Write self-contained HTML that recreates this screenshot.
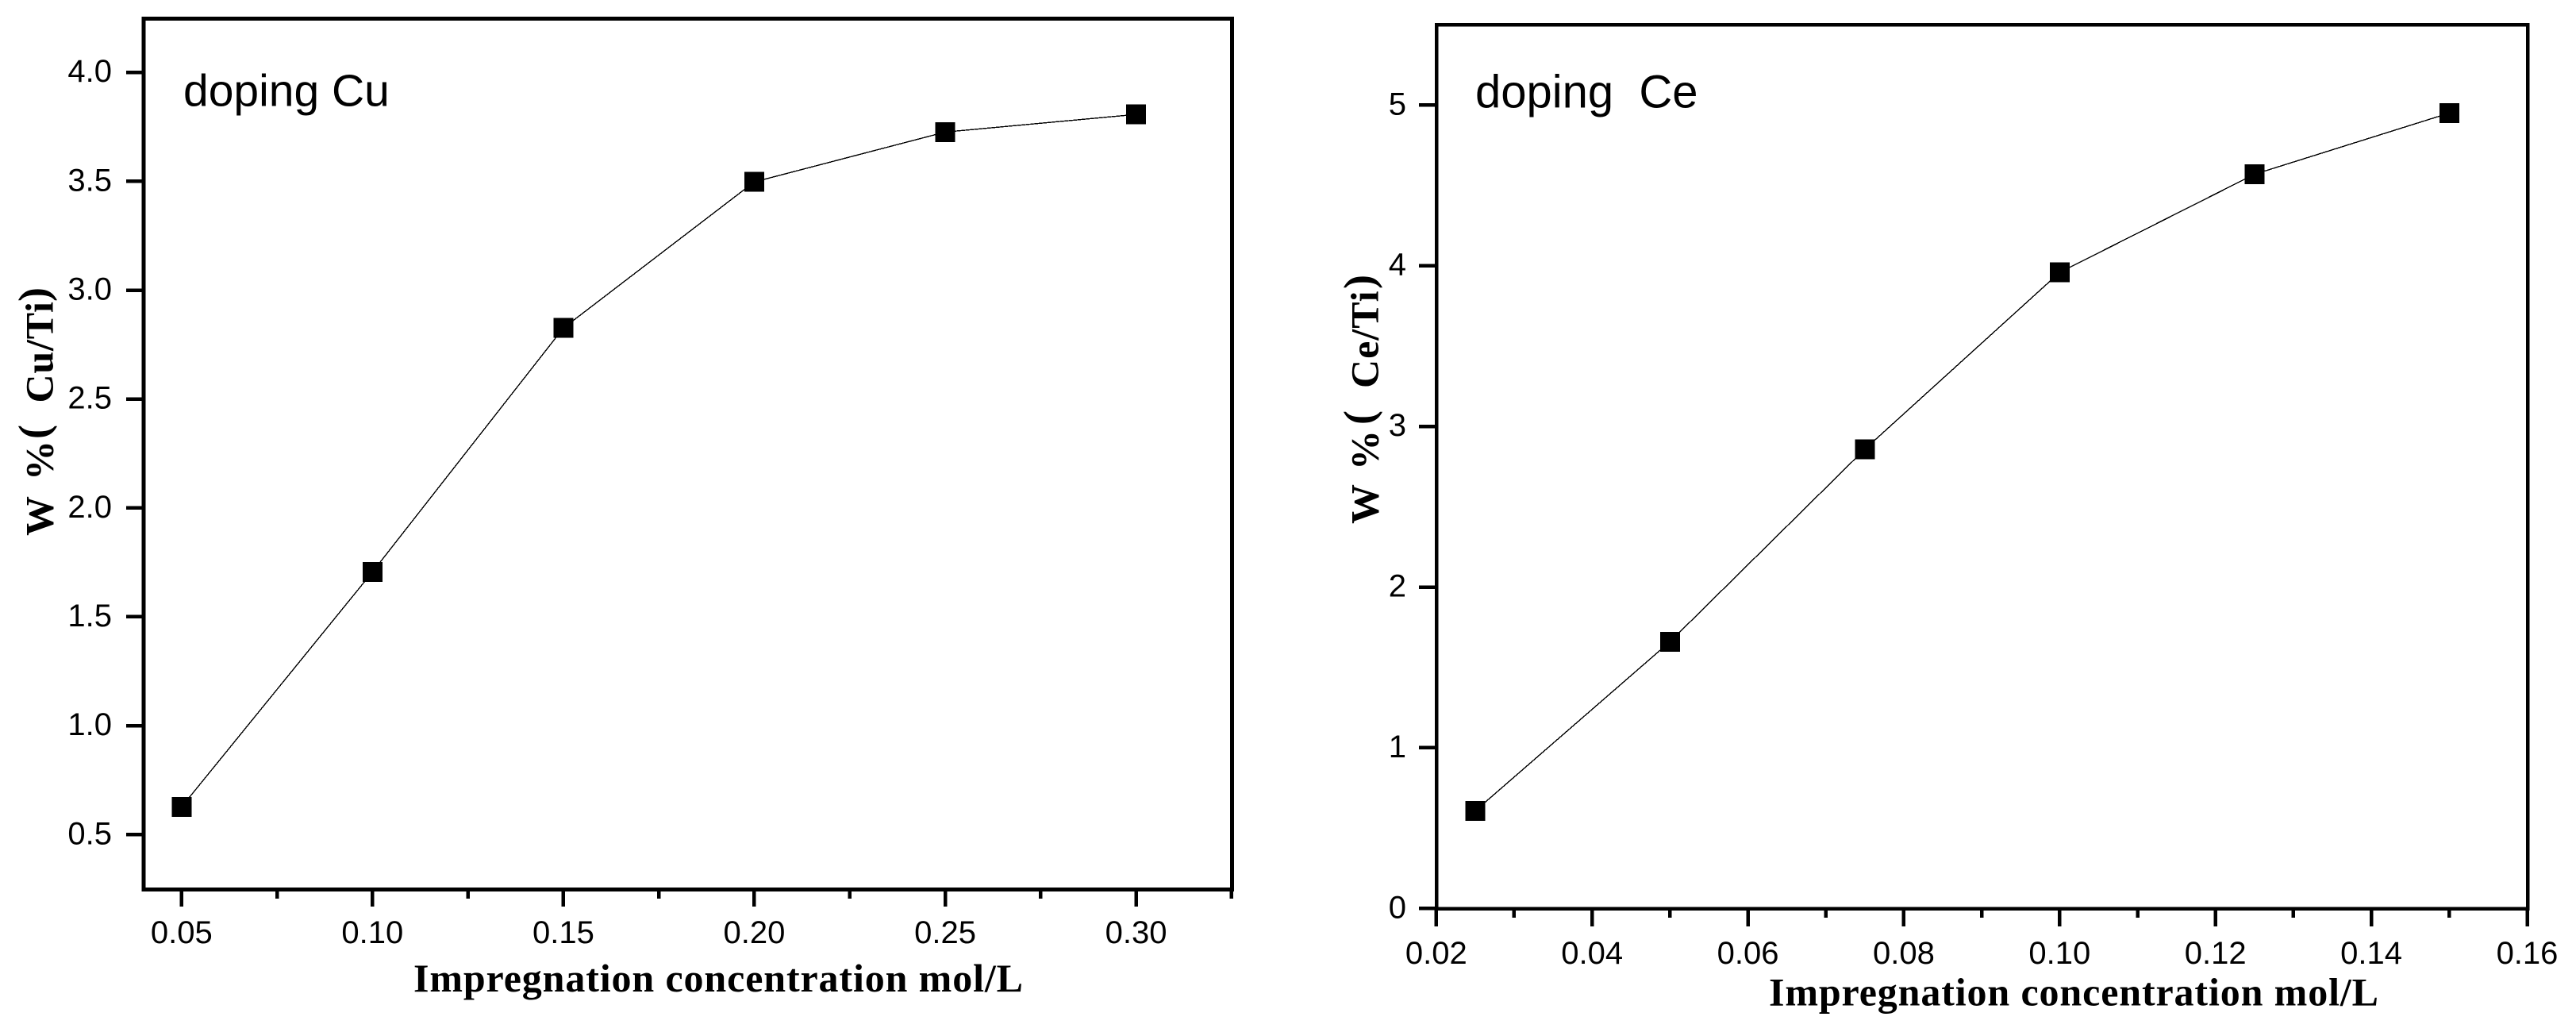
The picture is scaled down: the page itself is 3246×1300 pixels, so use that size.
<!DOCTYPE html>
<html lang="en">
<head>
<meta charset="utf-8">
<title>Doping Cu and Ce versus impregnation concentration</title>
<style>
html,body{margin:0;padding:0;background:#fff;}
svg{display:block;}
.tick{font-family:"Liberation Sans",Arial,sans-serif;font-size:40px;fill:#000;}
.note{font-family:"Liberation Sans",Arial,sans-serif;font-size:57px;fill:#000;white-space:pre;}
.title{font-family:"Liberation Serif","Times New Roman",serif;font-weight:bold;font-size:50px;fill:#000;white-space:pre;}
.paren{font-size:54px;}
.crisp{shape-rendering:crispEdges;}
</style>
</head>
<body>
<svg id="figure" xmlns="http://www.w3.org/2000/svg" width="3246" height="1300" viewBox="0 0 3246 1300">
  <rect x="0" y="0" width="3246" height="1300" fill="#fff"/>
  <g id="chart-cu">
    <rect class="crisp" x="181" y="23.5" width="1371.5" height="1097" fill="none" stroke="#000" stroke-width="5"/>
    <text class="note" x="231" y="133.5">doping Cu</text>
    <text class="title" x="521" y="1249" textLength="768" lengthAdjust="spacing">Impregnation concentration mol/L</text>
    <text class="title" transform="translate(66.5,675) rotate(-90)"><tspan x="0">W</tspan><tspan x="70">%</tspan><tspan class="paren" x="122" dy="-6">(</tspan><tspan x="167.5" dy="6" letter-spacing="0.8">Cu/Ti</tspan><tspan class="paren" x="295" dy="-6">)</tspan></text>
  </g>
  <g id="chart-ce">
    <rect class="crisp" x="1810" y="31" width="1375" height="1113.5" fill="none" stroke="#000" stroke-width="4.5"/>
    <text class="note" style="font-size:58px" x="1859" y="135.5">doping  Ce</text>
    <text class="title" x="2229" y="1266.5" textLength="768" lengthAdjust="spacing">Impregnation concentration mol/L</text>
    <text class="title" transform="translate(1736.7,660) rotate(-90)"><tspan x="0">W</tspan><tspan x="68">%</tspan><tspan class="paren" x="125" dy="-6">(</tspan><tspan x="171" dy="6" letter-spacing="1">Ce/Ti</tspan><tspan class="paren" x="296" dy="-6">)</tspan></text>
  </g>
</svg>
<script>
// Cu panel data
const cuConcentration = [0.05, 0.10, 0.15, 0.20, 0.25, 0.30];
const cuLoading = [0.627, 1.706, 2.826, 3.497, 3.726, 3.807];
const cuXTicks = [0.05, 0.10, 0.15, 0.20, 0.25, 0.30];
const cuXMinorTicks = [0.075, 0.125, 0.175, 0.225, 0.275, 0.325];
const cuXTickLabels = ["0.05", "0.10", "0.15", "0.20", "0.25", "0.30"];
const cuYTicks = [0.5, 1.0, 1.5, 2.0, 2.5, 3.0, 3.5, 4.0];
const cuYTickLabels = ["0.5", "1.0", "1.5", "2.0", "2.5", "3.0", "3.5", "4.0"];

// Ce panel data
const ceConcentration = [0.025, 0.05, 0.075, 0.10, 0.125, 0.15];
const ceLoading = [0.607, 1.66, 2.858, 3.958, 4.569, 4.95];
const ceXTicks = [0.02, 0.04, 0.06, 0.08, 0.10, 0.12, 0.14, 0.16];
const ceXMinorTicks = [0.03, 0.05, 0.07, 0.09, 0.11, 0.13, 0.15];
const ceXTickLabels = ["0.02", "0.04", "0.06", "0.08", "0.10", "0.12", "0.14", "0.16"];
const ceYTicks = [0, 1, 2, 3, 4, 5];
const ceYTickLabels = ["0", "1", "2", "3", "4", "5"];

const SVG_NS = "http://www.w3.org/2000/svg";

function scale(d0, d1, r0, r1) {
  return function (v) { return r0 + (v - d0) * (r1 - r0) / (d1 - d0); };
}

function addRect(parent, name, x, y, w, h) {
  const el = document.createElementNS(SVG_NS, "rect");
  el.setAttribute("x", x);
  el.setAttribute("y", y);
  el.setAttribute("width", w);
  el.setAttribute("height", h);
  el.setAttribute("fill", "#000");
  el.setAttribute("class", "crisp");
  
  
  parent.appendChild(el);
}

function addLabel(parent, name, x, y, anchor, str) {
  const el = document.createElementNS(SVG_NS, "text");
  el.setAttribute("x", x);
  el.setAttribute("y", y);
  el.setAttribute("text-anchor", anchor);
  el.setAttribute("class", "tick");
  
  
  el.textContent = str;
  parent.appendChild(el);
}

function drawPanel(p) {
  const g = document.getElementById(p.groupId);
  const xAxis = p.xAxis;
  const yAxis = p.yAxis;

  p.xTicks.forEach(function (v, i) {
    addRect(g, p.prefix + "-x-tick", xAxis(v) - 2.25, p.axisBottom, 4.5, p.xMajorLen);
    addLabel(g, p.prefix + "-x-tick-label", xAxis(v), p.xLabelY, "middle", p.xLabels[i]);
  });
  p.xMinor.forEach(function (v) {
    addRect(g, p.prefix + "-x-minor-tick", xAxis(v) - 2.25, p.axisBottom, 4.5, p.xMinorLen);
  });
  p.yTicks.forEach(function (v, i) {
    addRect(g, p.prefix + "-y-tick", p.axisLeft - p.yTickLen, yAxis(v) - 2.25, p.yTickLen, 4.5);
    addLabel(g, p.prefix + "-y-tick-label", p.yLabelX, yAxis(v) + 12, "end", p.yLabels[i]);
  });

  const line = document.createElementNS(SVG_NS, "polyline");
  line.setAttribute("points", p.xs.map(function (v, i) {
    return xAxis(v) + "," + yAxis(p.ys[i]);
  }).join(" "));
  line.setAttribute("fill", "none");
  line.setAttribute("stroke", "#000");
  line.setAttribute("stroke-width", "1.4");
  line.setAttribute("class", "crisp");
  
  
  g.appendChild(line);

  p.xs.forEach(function (v, i) {
    addRect(g, p.prefix + "-point", xAxis(v) - 12.5, yAxis(p.ys[i]) - 12.5, 25, 25);
  });
}

drawPanel({
  groupId: "chart-cu", prefix: "cu",
  xs: cuConcentration, ys: cuLoading,
  xTicks: cuXTicks, xMinor: cuXMinorTicks, xLabels: cuXTickLabels,
  yTicks: cuYTicks, yLabels: cuYTickLabels,
  xAxis: scale(0.05, 0.30, 228.8, 1431.6),
  yAxis: scale(0.5, 4.0, 1051.3, 91.2),
  axisBottom: 1122, axisLeft: 179,
  xMajorLen: 20, xMinorLen: 10, yTickLen: 20,
  xLabelY: 1188, yLabelX: 141
});

drawPanel({
  groupId: "chart-ce", prefix: "ce",
  xs: ceConcentration, ys: ceLoading,
  xTicks: ceXTicks, xMinor: ceXMinorTicks, xLabels: ceXTickLabels,
  yTicks: ceYTicks, yLabels: ceYTickLabels,
  xAxis: scale(0.02, 0.16, 1809.8, 3184.5),
  yAxis: scale(0, 5, 1144.3, 132.3),
  axisBottom: 1146, axisLeft: 1808,
  xMajorLen: 21, xMinorLen: 10, yTickLen: 20,
  xLabelY: 1214, yLabelX: 1772
});
</script>
</body>
</html>
